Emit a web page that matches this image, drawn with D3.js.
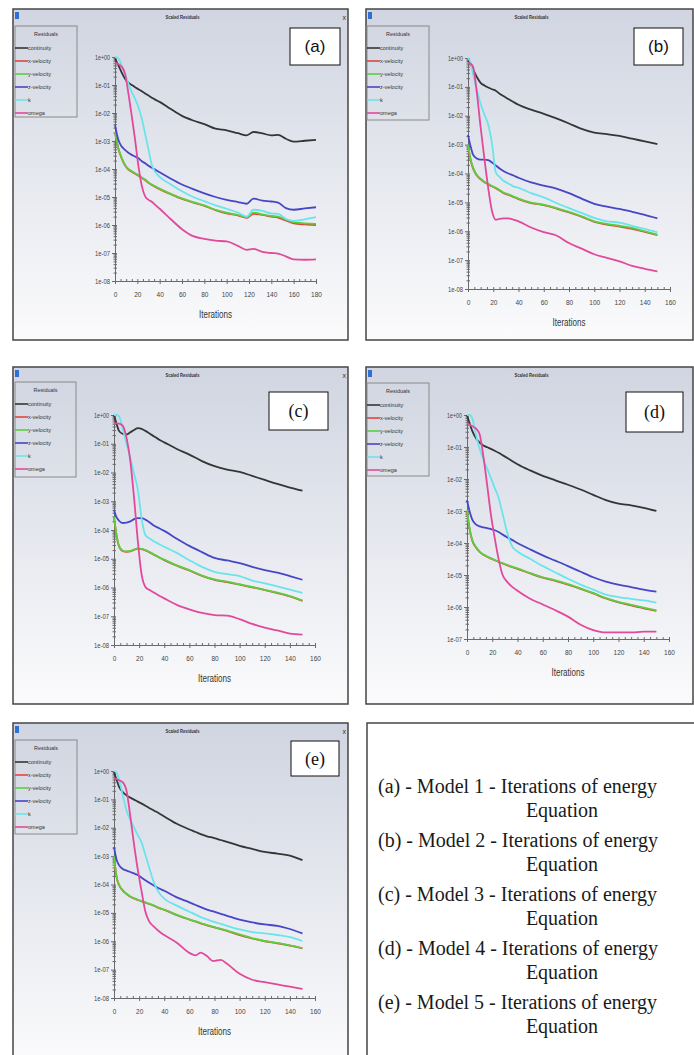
<!doctype html>
<html lang="en">
<head>
<meta charset="UTF-8">
<title>Scaled Residuals</title>
<style>
  body { margin: 0; background: #fff; }
  svg { display: block; }
</style>
</head>
<body>
<div id="chart"></div>
<script src="https://d3js.org/d3.v7.min.js"></script>
<script>
const seriesNames = ['continuity', 'x-velocity', 'y-velocity', 'z-velocity', 'k', 'omega']
const seriesColors = ['#353535', '#e0453f', '#5ccf3e', '#4646c6', '#6ae4ec', '#e2499b']

// (a) Model 1
const aIter = [0, 3, 6, 9, 12, 15, 18, 21, 24, 27, 30, 33, 36, 40, 50, 60, 70, 80, 90, 100, 110, 118, 124, 132, 140, 146, 153, 160, 170, 180]
const aContinuity = [0.89, 0.5, 0.28, 0.166, 0.12, 0.1, 0.083, 0.071, 0.06, 0.05, 0.042, 0.035, 0.03, 0.025, 0.0138, 0.0079, 0.0054, 0.004, 0.00275, 0.0024, 0.0019, 0.0016, 0.0021, 0.00186, 0.0016, 0.00166, 0.0012, 0.00095, 0.00102, 0.0011]
const aXVel = [2.0e-3, 5.3e-4, 2.4e-4, 1.35e-4, 9.6e-5, 8.0e-5, 6.8e-5, 5.8e-5, 4.8e-5, 4.0e-5, 3.2e-5, 2.7e-5, 2.3e-5, 1.9e-5, 1.25e-5, 8.5e-6, 6.3e-6, 4.8e-6, 3.4e-6, 2.6e-6, 2.2e-6, 1.8e-6, 2.5e-6, 2.3e-6, 2.0e-6, 1.85e-6, 1.45e-6, 1.15e-6, 1.05e-6, 1.0e-6]
const aYVel = [2.1e-3, 5.6e-4, 2.5e-4, 1.4e-4, 1.0e-4, 8.3e-5, 7.1e-5, 6.0e-5, 5.0e-5, 4.2e-5, 3.3e-5, 2.8e-5, 2.4e-5, 2.0e-5, 1.3e-5, 8.9e-6, 6.6e-6, 5.0e-6, 3.5e-6, 2.75e-6, 2.3e-6, 1.9e-6, 2.75e-6, 2.4e-6, 2.1e-6, 2.0e-6, 1.6e-6, 1.26e-6, 1.15e-6, 1.1e-6]
const aZVel = [3.7e-3, 1.1e-3, 6.3e-4, 4.8e-4, 3.8e-4, 3.2e-4, 2.8e-4, 2.4e-4, 1.9e-4, 1.6e-4, 1.3e-4, 1.1e-4, 9.5e-5, 7.6e-5, 4.5e-5, 2.8e-5, 1.9e-5, 1.35e-5, 1.0e-5, 7.9e-6, 6.6e-6, 5.75e-6, 8.7e-6, 7.4e-6, 6.9e-6, 6.3e-6, 4.0e-6, 3.5e-6, 3.9e-6, 4.3e-6]
const aK = [1.0, 0.89, 0.5, 0.25, 0.112, 0.056, 0.032, 0.016, 6.3e-3, 1.8e-3, 5.0e-4, 1.4e-4, 7.9e-5, 5.2e-5, 2.8e-5, 1.6e-5, 1.0e-5, 7.1e-6, 5.0e-6, 3.8e-6, 2.8e-6, 2.0e-6, 3.5e-6, 3.2e-6, 2.6e-6, 2.5e-6, 1.66e-6, 1.4e-6, 1.6e-6, 1.9e-6]
const aOmega = [0.63, 0.56, 0.45, 0.25, 0.05, 7.9e-3, 1.1e-3, 1.26e-4, 2.5e-5, 1.05e-5, 7.9e-6, 6.8e-6, 5.2e-6, 3.8e-6, 1.6e-6, 7.1e-7, 4.0e-7, 3.2e-7, 2.75e-7, 2.6e-7, 1.8e-7, 1.3e-7, 1.4e-7, 1.1e-7, 1.0e-7, 9.5e-8, 7.6e-8, 5.9e-8, 5.75e-8, 5.9e-8]

// (b) Model 2
const bIter = [0, 2, 4, 7, 10, 13, 16, 19, 22, 25, 28, 32, 36, 40, 50, 60, 70, 80, 90, 100, 110, 120, 130, 140, 150]
const bContinuity = [0.87, 0.63, 0.4, 0.22, 0.138, 0.112, 0.095, 0.083, 0.074, 0.058, 0.048, 0.038, 0.03, 0.024, 0.0162, 0.0117, 0.0081, 0.0054, 0.0035, 0.0026, 0.0023, 0.002, 0.0016, 0.0013, 0.00105]
const bXVel = [9.5e-4, 3.0e-4, 1.5e-4, 8.5e-5, 6.3e-5, 5.0e-5, 4.2e-5, 3.6e-5, 3.1e-5, 2.6e-5, 2.1e-5, 1.8e-5, 1.55e-5, 1.3e-5, 9.5e-6, 8.0e-6, 6.1e-6, 4.5e-6, 3.2e-6, 2.1e-6, 1.7e-6, 1.45e-6, 1.2e-6, 9.5e-7, 7.4e-7]
const bYVel = [1.0e-3, 3.2e-4, 1.6e-4, 8.9e-5, 6.6e-5, 5.2e-5, 4.4e-5, 3.7e-5, 3.2e-5, 2.7e-5, 2.2e-5, 1.9e-5, 1.6e-5, 1.35e-5, 9.8e-6, 8.3e-6, 6.3e-6, 4.7e-6, 3.3e-6, 2.2e-6, 1.8e-6, 1.55e-6, 1.3e-6, 1.0e-6, 7.6e-7]
const bZVel = [2.2e-3, 8.9e-4, 4.5e-4, 3.3e-4, 3.0e-4, 3.0e-4, 2.9e-4, 2.4e-4, 1.9e-4, 1.5e-4, 1.23e-4, 1.0e-4, 8.5e-5, 7.1e-5, 4.9e-5, 3.8e-5, 3.0e-5, 2.1e-5, 1.35e-5, 8.9e-6, 7.1e-6, 5.9e-6, 4.7e-6, 3.7e-6, 2.8e-6]
const bK = [1.0, 0.71, 0.28, 0.079, 0.026, 0.0112, 0.005, 1.1e-3, 1.1e-4, 7.6e-5, 5.6e-5, 4.5e-5, 3.6e-5, 3.2e-5, 2.1e-5, 1.5e-5, 9.5e-6, 6.3e-6, 4.3e-6, 2.9e-6, 2.2e-6, 2.0e-6, 1.55e-6, 1.2e-6, 9.1e-7]
const bOmega = [0.68, 0.63, 0.5, 0.063, 4.0e-3, 3.2e-4, 3.2e-5, 5.0e-6, 2.5e-6, 2.7e-6, 2.8e-6, 2.8e-6, 2.5e-6, 2.2e-6, 1.35e-6, 9.3e-7, 7.1e-7, 3.9e-7, 2.5e-7, 1.6e-7, 1.2e-7, 9.1e-8, 6.3e-8, 5.0e-8, 4.1e-8]

// (c) Model 3
const cIter = [0, 2, 4, 7, 10, 13, 16, 19, 22, 25, 28, 32, 36, 40, 50, 60, 70, 80, 90, 100, 110, 120, 130, 140, 150]
const cContinuity = [1.0, 0.5, 0.28, 0.22, 0.21, 0.25, 0.3, 0.35, 0.33, 0.28, 0.23, 0.18, 0.138, 0.112, 0.066, 0.042, 0.025, 0.0166, 0.0126, 0.0105, 0.0076, 0.0055, 0.004, 0.003, 0.00235]
const cXVel = [2.8e-4, 6.5e-5, 2.7e-5, 1.85e-5, 1.75e-5, 1.8e-5, 2.05e-5, 2.25e-5, 2.15e-5, 1.95e-5, 1.7e-5, 1.36e-5, 1.1e-5, 9.0e-6, 5.7e-6, 3.9e-6, 2.55e-6, 1.85e-6, 1.55e-6, 1.27e-6, 1.02e-6, 8.1e-7, 6.4e-7, 4.9e-7, 3.4e-7]
const cYVel = [2.9e-4, 6.8e-5, 2.8e-5, 1.9e-5, 1.8e-5, 1.86e-5, 2.1e-5, 2.3e-5, 2.2e-5, 2.0e-5, 1.75e-5, 1.4e-5, 1.12e-5, 9.3e-6, 5.9e-6, 4.0e-6, 2.6e-6, 1.9e-6, 1.6e-6, 1.3e-6, 1.05e-6, 8.3e-7, 6.6e-7, 5.0e-7, 3.5e-7]
const cZVel = [5.0e-4, 2.8e-4, 2.1e-4, 1.75e-4, 1.8e-4, 2.0e-4, 2.4e-4, 2.6e-4, 2.6e-4, 2.3e-4, 1.9e-4, 1.4e-4, 1.15e-4, 9.3e-5, 5.0e-5, 2.8e-5, 1.7e-5, 1.07e-5, 8.7e-6, 7.1e-6, 5.2e-6, 4.0e-6, 3.3e-6, 2.5e-6, 1.86e-6]
const cK = [1.0, 1.0, 0.89, 0.32, 0.1, 0.032, 8.9e-3, 2.5e-3, 2.5e-4, 6.6e-5, 5.2e-5, 4.0e-5, 3.2e-5, 2.6e-5, 1.6e-5, 8.9e-6, 5.2e-6, 3.5e-6, 2.9e-6, 2.5e-6, 1.74e-6, 1.4e-6, 1.1e-6, 8.5e-7, 6.5e-7]
const cOmega = [0.51, 0.51, 0.5, 0.42, 0.16, 0.025, 1.26e-3, 4.0e-5, 2.8e-6, 1.05e-6, 8.3e-7, 6.6e-7, 5.2e-7, 4.2e-7, 2.5e-7, 1.74e-7, 1.3e-7, 1.1e-7, 1.05e-7, 7.9e-8, 5.4e-8, 4.0e-8, 3.2e-8, 2.5e-8, 2.3e-8]

// (d) Model 4
const dIter = [0, 2, 4, 7, 10, 13, 16, 19, 22, 25, 28, 32, 36, 40, 50, 60, 70, 80, 90, 100, 110, 120, 130, 140, 150]
const dContinuity = [1.0, 0.56, 0.33, 0.19, 0.138, 0.112, 0.098, 0.087, 0.076, 0.066, 0.056, 0.045, 0.036, 0.029, 0.0186, 0.0126, 0.0091, 0.0066, 0.0047, 0.0032, 0.0022, 0.0017, 0.0015, 0.00126, 0.001]
const dXVel = [1.0e-3, 2.8e-4, 1.25e-4, 7.4e-5, 5.3e-5, 4.3e-5, 3.7e-5, 3.25e-5, 2.9e-5, 2.55e-5, 2.3e-5, 2.0e-5, 1.75e-5, 1.55e-5, 1.12e-5, 8.3e-6, 6.6e-6, 5.0e-6, 3.7e-6, 2.65e-6, 1.85e-6, 1.4e-6, 1.12e-6, 9.1e-7, 7.6e-7]
const dYVel = [1.07e-3, 2.9e-4, 1.3e-4, 7.6e-5, 5.4e-5, 4.4e-5, 3.8e-5, 3.3e-5, 2.95e-5, 2.6e-5, 2.35e-5, 2.05e-5, 1.8e-5, 1.6e-5, 1.15e-5, 8.5e-6, 6.8e-6, 5.2e-6, 3.8e-6, 2.75e-6, 1.9e-6, 1.45e-6, 1.17e-6, 9.5e-7, 7.8e-7]
const dZVel = [2.2e-3, 1.0e-3, 5.6e-4, 3.8e-4, 3.3e-4, 3.1e-4, 2.9e-4, 2.7e-4, 2.5e-4, 2.2e-4, 1.86e-4, 1.5e-4, 1.23e-4, 1.0e-4, 6.3e-5, 4.1e-5, 2.8e-5, 1.9e-5, 1.26e-5, 8.5e-6, 6.2e-6, 5.0e-6, 4.2e-6, 3.5e-6, 3.0e-6]
const dK = [1.0, 1.0, 0.83, 0.25, 0.089, 0.04, 0.021, 0.0105, 5.2e-3, 2.6e-3, 8.9e-4, 2.0e-4, 7.6e-5, 5.4e-5, 3.2e-5, 1.9e-5, 1.2e-5, 7.6e-6, 5.0e-6, 3.5e-6, 2.45e-6, 2.05e-6, 1.8e-6, 1.6e-6, 1.38e-6]
const dOmega = [0.55, 0.5, 0.45, 0.38, 0.25, 0.05, 6.3e-3, 7.4e-4, 1.4e-4, 3.2e-5, 1.05e-5, 6.0e-6, 4.2e-6, 3.2e-6, 1.8e-6, 1.2e-6, 7.9e-7, 5.0e-7, 2.8e-7, 1.9e-7, 1.6e-7, 1.6e-7, 1.6e-7, 1.7e-7, 1.7e-7]

// (e) Model 5
const eIter = [0, 2, 4, 7, 10, 13, 16, 19, 22, 25, 28, 32, 36, 40, 50, 60, 65, 69, 74, 79, 85, 90, 100, 110, 120, 130, 140, 150]
const eContinuity = [0.91, 0.5, 0.28, 0.18, 0.138, 0.115, 0.098, 0.083, 0.071, 0.06, 0.05, 0.04, 0.032, 0.025, 0.0138, 0.0087, 0.0071, 0.006, 0.005, 0.0044, 0.0037, 0.0032, 0.0023, 0.0018, 0.0014, 0.00123, 0.00105, 0.00072]
const eXVel = [9.5e-4, 1.85e-4, 9.6e-5, 6.1e-5, 4.6e-5, 3.7e-5, 3.2e-5, 2.85e-5, 2.55e-5, 2.3e-5, 2.05e-5, 1.75e-5, 1.48e-5, 1.28e-5, 8.3e-6, 5.8e-6, 4.9e-6, 4.3e-6, 3.6e-6, 3.15e-6, 2.7e-6, 2.3e-6, 1.65e-6, 1.25e-6, 1.0e-6, 8.5e-7, 7.0e-7, 5.6e-7]
const eYVel = [1.0e-3, 1.95e-4, 1.0e-4, 6.3e-5, 4.7e-5, 3.8e-5, 3.3e-5, 2.9e-5, 2.6e-5, 2.35e-5, 2.1e-5, 1.8e-5, 1.5e-5, 1.3e-5, 8.5e-6, 5.9e-6, 5.0e-6, 4.4e-6, 3.7e-6, 3.2e-6, 2.75e-6, 2.35e-6, 1.74e-6, 1.3e-6, 1.02e-6, 8.7e-7, 7.2e-7, 5.75e-7]
const eZVel = [2.1e-3, 7.6e-4, 4.8e-4, 3.5e-4, 3.1e-4, 2.75e-4, 2.45e-4, 2.15e-4, 1.74e-4, 1.4e-4, 1.15e-4, 9.1e-5, 7.2e-5, 6.0e-5, 3.5e-5, 2.35e-5, 1.9e-5, 1.6e-5, 1.3e-5, 1.12e-5, 9.3e-6, 7.9e-6, 5.75e-6, 4.6e-6, 3.9e-6, 3.5e-6, 2.7e-6, 1.9e-6]
const eK = [1.0, 0.89, 0.5, 0.14, 0.04, 0.019, 0.01, 5.5e-3, 3.0e-3, 1.1e-3, 4.0e-4, 1.1e-4, 5.0e-5, 3.2e-5, 1.8e-5, 1.1e-5, 8.7e-6, 7.1e-6, 5.9e-6, 4.9e-6, 4.1e-6, 3.5e-6, 2.6e-6, 2.1e-6, 1.9e-6, 1.66e-6, 1.4e-6, 1.02e-6]
const eOmega = [0.58, 0.52, 0.47, 0.4, 0.2, 0.025, 2.5e-3, 3.2e-4, 5.6e-5, 1.1e-5, 5.0e-6, 3.2e-6, 2.2e-6, 1.66e-6, 8.9e-7, 3.9e-7, 3.2e-7, 4.0e-7, 3.0e-7, 2.0e-7, 2.2e-7, 1.6e-7, 7.1e-8, 4.4e-8, 3.6e-8, 3.0e-8, 2.5e-8, 2.1e-8]

const captions = [
  '(a) - Model 1 - Iterations of energy',
  '(b) - Model 2 - Iterations of energy',
  '(c) - Model 3 - Iterations of energy',
  '(d) - Model 4 - Iterations of energy',
  '(e) - Model 5 - Iterations of energy'
]

// layout of each screenshot panel: frame [x, y, w, h], plot [x0, x1, yTop, yBottom]
const panels = [
  {tag: '(a)', serif: false, iter: aIter, values: [aContinuity, aXVel, aYVel, aZVel, aK, aOmega], xMax: 180, yMin: 1e-8,
    frame: [13, 9, 335, 331], plot: [115, 316, 57, 281], legend: [15, 26, 62, 91], tagBox: [290, 28, 50, 37], close: true},
  {tag: '(b)', serif: false, iter: bIter, values: [bContinuity, bXVel, bYVel, bZVel, bK, bOmega], xMax: 160, yMin: 1e-8,
    frame: [366, 9, 327, 331], plot: [468, 670, 58, 289], legend: [367, 26, 62, 94], tagBox: [634, 28, 49, 37], close: false},
  {tag: '(c)', serif: true, iter: cIter, values: [cContinuity, cXVel, cYVel, cZVel, cK, cOmega], xMax: 160, yMin: 1e-8,
    frame: [13, 367, 335, 337], plot: [114, 315, 415, 645], legend: [15, 382, 61, 95], tagBox: [269, 392, 59, 38], close: true},
  {tag: '(d)', serif: true, iter: dIter, values: [dContinuity, dXVel, dYVel, dZVel, dK, dOmega], xMax: 160, yMin: 1e-7,
    frame: [366, 367, 327, 337], plot: [467, 669, 415, 639], legend: [367, 383, 62, 93], tagBox: [626, 392, 57, 40], close: false},
  {tag: '(e)', serif: true, iter: eIter, values: [eContinuity, eXVel, eYVel, eZVel, eK, eOmega], xMax: 160, yMin: 1e-8,
    frame: [13, 723, 335, 340], plot: [114, 315, 771, 998], legend: [15, 740, 62, 94], tagBox: [291, 741, 48, 35], close: true}
]

const sans = "'Liberation Sans', Arial, sans-serif"
const serif = "'Liberation Serif', 'Times New Roman', serif"

const svg = d3.select('#chart').append('svg').attr('width', 694).attr('height', 1055)

const grad = svg.append('defs').append('linearGradient')
  .attr('id', 'panelBg').attr('x1', 0).attr('y1', 0).attr('x2', 0).attr('y2', 1)
grad.append('stop').attr('offset', '0%').attr('stop-color', '#d0d5e1')
grad.append('stop').attr('offset', '100%').attr('stop-color', '#fbfbfc')

const fmtExp = d => {
  const e = Math.round(Math.log10(d))
  return '1e' + (e < 0 ? '-' : '+') + String(Math.abs(e)).padStart(2, '0')
}

panels.forEach(p => {
  const g = svg.append('g')
  const [fx, fy, fw, fh] = p.frame
  g.append('rect').attr('x', fx).attr('y', fy).attr('width', fw).attr('height', fh)
    .attr('fill', 'url(#panelBg)').attr('stroke', '#454545').attr('stroke-width', 1.5)

  // window decorations
  g.append('rect').attr('x', fx + 2).attr('y', fy + 3).attr('width', 4).attr('height', 7).attr('fill', '#2f6fd6')
  g.append('text').attr('x', fx + fw / 2 + 2).attr('y', fy + 10).attr('text-anchor', 'middle')
    .attr('font-family', sans).attr('font-size', 5).attr('font-weight', 'bold').attr('fill', '#333')
    .attr('textLength', 34).attr('lengthAdjust', 'spacingAndGlyphs').text('Scaled Residuals')
  if (p.close) {
    g.append('text').attr('x', fx + fw - 2).attr('y', fy + 11).attr('text-anchor', 'end')
      .attr('font-family', sans).attr('font-size', 7).attr('fill', '#333').text('x')
  }

  const [x0, x1, yTop, yBot] = p.plot
  const x = d3.scaleLinear().domain([0, p.xMax]).range([x0, x1])
  const y = d3.scaleLog().domain([p.yMin, 1]).range([yBot, yTop])

  const lo = Math.round(Math.log10(p.yMin))
  const decades = d3.range(lo, 1).map(e => Math.pow(10, e))
  const minor = []
  decades.slice(0, -1).forEach(d => { for (let m = 2; m < 10; m++) minor.push(d * m) })

  // y axis
  const yg = g.append('g').attr('transform', `translate(${x0},0)`)
    .call(d3.axisLeft(y).tickValues(decades).tickFormat(fmtExp).tickSizeInner(3).tickSizeOuter(0).tickPadding(2))
  yg.selectAll('text').attr('font-family', sans).attr('font-size', 6.5).attr('fill', '#444')
    .attr('textLength', 15).attr('lengthAdjust', 'spacingAndGlyphs')
  g.append('g').attr('transform', `translate(${x0},0)`)
    .call(d3.axisLeft(y).tickValues(minor).tickFormat('').tickSize(1.5))
    .call(s => s.select('.domain').remove())
  g.append('g').attr('transform', `translate(${x0},0)`)
    .call(d3.axisRight(y).tickValues(decades.concat(minor)).tickFormat('').tickSize(2))
    .call(s => s.select('.domain').remove())

  // x axis
  const xg = g.append('g').attr('transform', `translate(0,${yBot})`)
    .call(d3.axisBottom(x).tickValues(d3.range(0, p.xMax + 1, 20)).tickSizeInner(3).tickSizeOuter(0).tickPadding(8))
  xg.selectAll('text').attr('font-family', sans).attr('font-size', 6.5).attr('fill', '#444')
  g.append('g').attr('transform', `translate(0,${yBot})`)
    .call(d3.axisTop(x).tickValues(d3.range(0, p.xMax + 1, 5)).tickFormat('').tickSize(2))
    .call(s => s.select('.domain').remove())

  g.selectAll('.domain, .tick line').attr('stroke', '#6a6a6a')

  g.append('text').attr('x', (x0 + x1) / 2).attr('y', yBot + 33).attr('dominant-baseline', 'central')
    .attr('text-anchor', 'middle').attr('font-family', sans).attr('font-size', 10).attr('fill', '#333')
    .attr('textLength', 33).attr('lengthAdjust', 'spacingAndGlyphs').text('Iterations')

  // residual curves
  const line = d3.line().x(d => x(d[0])).y(d => y(d[1])).curve(d3.curveMonotoneX)
  p.values.forEach((vals, i) => {
    g.append('path')
      .datum(p.iter.map((t, j) => [t, vals[j]]))
      .attr('d', line)
      .attr('fill', 'none')
      .attr('stroke', seriesColors[i])
      .attr('stroke-width', 1.8)
      .attr('stroke-linejoin', 'round')
  })

  // legend
  const [lx, ly, lw, lh] = p.legend
  g.append('rect').attr('x', lx).attr('y', ly).attr('width', lw).attr('height', lh)
    .attr('fill', 'none').attr('stroke', '#8a8a8a').attr('stroke-width', 1)
  g.append('text').attr('x', lx + lw / 2).attr('y', ly + 10).attr('text-anchor', 'middle')
    .attr('font-family', sans).attr('font-size', 5.5).attr('fill', '#333').text('Residuals')
  seriesNames.forEach((n, i) => {
    const yy = ly + 22 + i * 13
    g.append('line').attr('x1', lx).attr('x2', lx + 13).attr('y1', yy).attr('y2', yy)
      .attr('stroke', seriesColors[i]).attr('stroke-width', 1.6)
    g.append('text').attr('x', lx + 13).attr('y', yy + 2).attr('font-family', sans).attr('font-size', 5.5)
      .attr('fill', '#333').text(n)
  })

  // panel tag
  const [tx, ty, tw, th] = p.tagBox
  g.append('rect').attr('x', tx).attr('y', ty).attr('width', tw).attr('height', th)
    .attr('fill', '#fff').attr('stroke', '#111').attr('stroke-width', 1)
  g.append('text').attr('x', tx + tw / 2).attr('y', ty + th / 2).attr('dominant-baseline', 'central')
    .attr('text-anchor', 'middle').attr('font-family', p.serif ? serif : sans)
    .attr('font-size', p.serif ? 18 : 17).attr('fill', '#111').text(p.tag)
})

// caption box
const cap = svg.append('g')
cap.append('rect').attr('x', 367).attr('y', 723).attr('width', 340).attr('height', 340)
  .attr('fill', '#fff').attr('stroke', '#454545').attr('stroke-width', 1.5)
captions.forEach((c, i) => {
  cap.append('text').attr('x', 378).attr('y', 793 + i * 54)
    .attr('font-family', serif).attr('font-size', 20).attr('fill', '#1a1a1a').text(c)
  cap.append('text').attr('x', 562).attr('y', 817 + i * 54).attr('text-anchor', 'middle')
    .attr('font-family', serif).attr('font-size', 20).attr('fill', '#1a1a1a').text('Equation')
})
</script>
</body>
</html>
